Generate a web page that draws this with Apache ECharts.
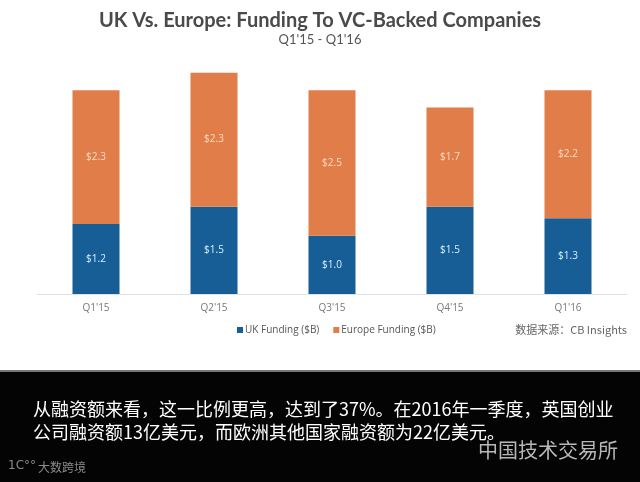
<!DOCTYPE html>
<html><head><meta charset="utf-8">
<script src="https://cdn.jsdelivr.net/npm/echarts@6/dist/echarts.min.js"></script>
<style>html,body{margin:0;padding:0;background:#fff}#c{width:640px;height:482px}</style>
</head><body><div id="c"></div>
<script>
var categories = ["Q1'15", "Q2'15", "Q3'15", "Q4'15", "Q1'16"];
var ukFunding = [1.2, 1.5, 1.0, 1.5, 1.3];
var europeFunding = [2.3, 2.3, 2.5, 1.7, 2.2];
var seriesNames = ["UK Funding ($B)", "Europe Funding ($B)"];
var titleText = "UK Vs. Europe: Funding To VC-Backed Companies";
var subtitleText = "Q1'15 - Q1'16";
var sourceText = "数据来源：CB Insights";
var captionLines = ["从融资额来看，这一比例更高，达到了37%。在2016年一季度，英国创业", "公司融资额13亿美元，而欧洲其他国家融资额为22亿美元。"];

var chart = echarts.init(document.getElementById('c'));
chart.setOption({
  backgroundColor: '#ffffff',
  animation: false,
  title: {
    text: titleText, subtext: subtitleText, left: 'center', top: 6, itemGap: 2,
    textStyle: {fontFamily: 'Lato', fontWeight: 'bold', fontSize: 20, color: '#4a4a4a'},
    subtextStyle: {fontFamily: 'Lato', fontSize: 13, color: '#555'}
  },
  legend: {
    data: seriesNames, left: 232, top: 320, itemWidth: 6, itemHeight: 6, itemGap: 14,
    icon: 'rect',
    textStyle: {fontFamily: 'Open Sans', fontSize: 10, color: '#555', padding: [0,0,0,-3]}
  },
  grid: {left: 37, right: 13, top: 61, bottom: 188},
  xAxis: {
    type: 'category', data: categories,
    axisLine: {lineStyle: {color: '#e2e2e2'}}, axisTick: {show: false},
    axisLabel: {fontFamily: 'Open Sans', fontSize: 10, color: '#777', margin: 9}
  },
  yAxis: {type: 'value', min: 0, max: 4, show: false, splitLine: {show: false}},
  series: [
    {name: seriesNames[0], type: 'bar', stack: 's', data: ukFunding, barWidth: 47,
     itemStyle: {color: '#175d96'},
     label: {show: true, position: 'inside', color: '#d6f2ff', fontSize: 10, fontFamily: 'Open Sans',
       formatter: function(p){return '$' + p.value.toFixed(1);}}},
    {name: seriesNames[1], type: 'bar', stack: 's', data: europeFunding, barWidth: 47,
     itemStyle: {color: '#e07d48'},
     label: {show: true, position: 'inside', color: '#fbdcc0', fontSize: 10, fontFamily: 'Open Sans',
       formatter: function(p){return '$' + p.value.toFixed(1);}}}
  ],
  graphic: [
    {type: 'text', right: 13, top: 324, style: {text: sourceText, fontFamily: 'Noto Sans CJK SC', fontSize: 11, fill: '#666'}},
    {type: 'rect', left: 0, top: 371, shape: {width: 640, height: 111}, style: {fill: '#040404'}},
    {type: 'rect', left: 0, top: 370, shape: {width: 640, height: 2}, style: {fill: '#777'}},
    {type: 'text', left: 33, top: 400, style: {text: captionLines[0], fontFamily: 'Noto Sans CJK SC', fontSize: 18, fill: '#ffffff'}},
    {type: 'text', left: 33, top: 423, style: {text: captionLines[1], fontFamily: 'Noto Sans CJK SC', fontSize: 18, fill: '#ffffff'}},
    {type: 'text', left: 478, top: 440, style: {text: '中国技术交易所', fontFamily: 'Noto Sans CJK SC', fontSize: 20, fill: '#b8b8b8'}},
    {type: 'text', left: 38, top: 461, style: {text: '大数跨境', fontFamily: 'Noto Sans CJK SC', fontSize: 12, fill: '#8a8a8a'}},
    {type: 'text', left: 8, top: 460, style: {text: '1C°°', fontFamily: 'DejaVu Sans', fontSize: 12, fill: '#8a8a8a'}}
  ]
});
</script></body></html>
